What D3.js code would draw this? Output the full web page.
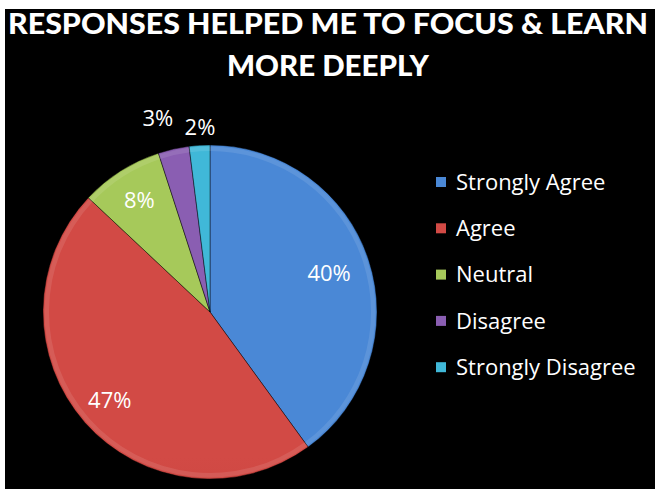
<!DOCTYPE html>
<html><head><meta charset="utf-8">
<script src="https://cdn.jsdelivr.net/npm/d3@7/dist/d3.min.js"></script>
<style>html,body{margin:0;padding:0;background:#fff;}svg{display:block;}</style>
</head><body>
<script>
const categories = ["Strongly Agree", "Agree", "Neutral", "Disagree", "Strongly Disagree"];
const values = [40, 47, 8, 3, 2];
const labels = ["40%", "47%", "8%", "3%", "2%"];
const colorsTop = ["#4a88d6", "#d24a45", "#a6c95a", "#8a5eb2", "#40b8d8"];
const colorsBottom = ["#3668aa", "#a83532", "#8cad46", "#6a4890", "#2a90ae"];
const titleLines = ["RESPONSES HELPED ME TO FOCUS & LEARN", "MORE DEEPLY"];

const W = 655, H = 489;
const svg = d3.select("body").append("svg").attr("width", W).attr("height", H);
svg.append("rect").attr("x", 5).attr("y", 9).attr("width", W - 5).attr("height", H - 9).attr("fill", "#000");

const defs = svg.append("defs");
const cx = 210, cy = 312, R = 167;
categories.forEach((c, i) => {
  const g = defs.append("linearGradient").attr("id", "g" + i)
    .attr("gradientUnits", "userSpaceOnUse")
    .attr("x1", cx).attr("y1", cy - R).attr("x2", cx).attr("y2", cy + R);
  g.append("stop").attr("offset", "0").attr("stop-color", colorsTop[i]);
  g.append("stop").attr("offset", "1").attr("stop-color", colorsBottom[i]);
});

// title
svg.selectAll("text.title").data(titleLines).join("text")
  .attr("class", "title")
  .attr("x", 328).attr("y", (d, i) => 34 + i * 42)
  .attr("text-anchor", "middle")
  .attr("font-family", "Lato, 'Open Sans', sans-serif")
  .attr("font-weight", "900")
  .attr("font-size", 28)
  .attr("fill", "#fff")
  .attr("textLength", (d, i) => i === 0 ? 640 : 202)
  .attr("lengthAdjust", "spacingAndGlyphs")
  .text(d => d);

const pie = d3.pie().sort(null).value(d => d)(values);
const arc = d3.arc().innerRadius(0).outerRadius(R);
const g = svg.append("g").attr("transform", `translate(${cx},${cy})`);
g.selectAll("path.slice").data(pie).join("path")
  .attr("class", "slice")
  .attr("d", arc)
  .attr("fill", (d, i) => `url(#g${i})`)
  .attr("stroke", "rgba(0,0,0,0.45)")
  .attr("stroke-width", 1);
// bevel highlight
const innerArc = d3.arc().innerRadius(R - 6).outerRadius(R - 1.5);
g.selectAll("path.bevel").data(pie).join("path")
  .attr("class", "bevel")
  .attr("d", innerArc)
  .attr("fill", "rgba(255,255,255,0.10)");

// labels: radius factor per slice (outside for the thin ones)
const labelR = [0.75, 0.8, 0.79, 1.2, 1.11];
const labelShift = [0, 0, 0, -2.5, 0.5]; // degrees
g.selectAll("text.lbl").data(pie).join("text")
  .attr("class", "lbl")
  .attr("transform", (d, i) => {
    const a = (d.startAngle + d.endAngle) / 2 + labelShift[i] * Math.PI / 180;
    const r = R * labelR[i];
    return `translate(${r * Math.sin(a)},${-r * Math.cos(a)})`;
  })
  .attr("text-anchor", "middle")
  .attr("dy", "0.35em")
  .attr("font-family", "'Open Sans', sans-serif")
  .attr("font-size", 22)
  .attr("fill", "#fff")
  .text((d, i) => labels[i]);

// legend
const leg = svg.append("g").attr("transform", "translate(436,182)");
const rows = leg.selectAll("g").data(categories).join("g")
  .attr("transform", (d, i) => `translate(0,${i * 46.3})`);
rows.append("rect").attr("x", 0).attr("y", -5).attr("width", 10).attr("height", 10)
  .attr("fill", (d, i) => colorsTop[i]);
rows.append("text").attr("x", 20).attr("dy", "0.35em")
  .attr("font-family", "'Open Sans', sans-serif")
  .attr("font-size", 22)
  .attr("fill", "#fff")
  .text(d => d);
</script>
</body></html>
